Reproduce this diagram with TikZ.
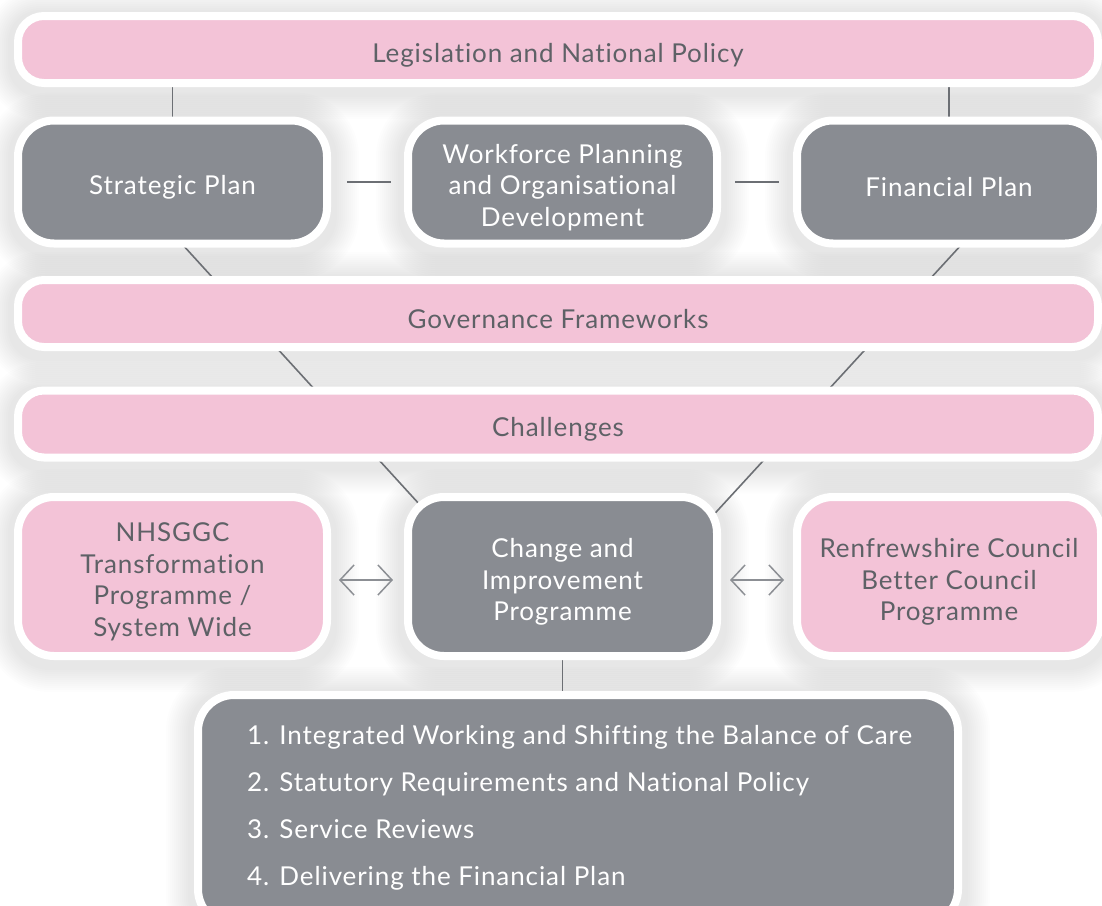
\documentclass[tikz,border=0pt]{standalone}
\usepackage{fontspec}
\setmainfont{Lato}[LetterSpace=3.5, Ligatures=NoCommon]
\usetikzlibrary{arrows.meta,calc}

\definecolor{boxgray}{HTML}{898C92}
\definecolor{boxpink}{HTML}{F3C3D7}
\definecolor{inkgray}{HTML}{5E6166}
\definecolor{linegray}{HTML}{6C6F74}
\definecolor{arrowgray}{HTML}{8C8F94}

\pgfdeclarelayer{canvas}
\pgfdeclarelayer{shadows}
\pgfdeclarelayer{links}
\pgfsetlayers{canvas,shadows,links,main}

\tikzset{
  panel/.style={draw=white, line width=8pt, inner sep=0pt},
  graypanel/.style={panel, fill=boxgray, rounded corners=36pt},
  pinkpanel/.style={panel, fill=boxpink, rounded corners=36pt},
  pinkbar/.style={panel, fill=boxpink, rounded corners=26pt,
    minimum width=1080pt, minimum height=67pt},
  caption/.style={inner sep=0pt, align=center, yshift=-5.5pt,
    font=\fontsize{26}{31.5}\selectfont},
  oncolour/.style={caption, text=white},
  onpink/.style={caption, text=inkgray},
  link/.style={draw=linegray, line width=1.6pt},
  twoway/.style={draw=arrowgray, line width=1.5pt,
    {Straight Barb[length=14pt,width=30pt]}-{Straight Barb[length=14pt,width=30pt]}},
}

\begin{document}
\begin{tikzpicture}[x=1pt,y=-1pt]
\useasboundingbox (0,0) rectangle (1102,905);
\begin{pgfonlayer}{canvas}
  \fill[white] (0,0) rectangle (1102,905);
\end{pgfonlayer}

% framework bars and boxes
\node[pinkbar] (leg) at (558,49.5) {};
\node[graypanel, minimum width=309pt, minimum height=123pt] (strat) at (172.5,182) {};
\node[graypanel, minimum width=309pt, minimum height=123pt] (work) at (562.5,182) {};
\node[graypanel, minimum width=304pt, minimum height=123pt] (fin) at (949,182) {};
\node[pinkbar] (gov) at (558,313.5) {};
\node[pinkbar] (chal) at (558,424) {};
\node[pinkpanel, minimum width=309pt, minimum height=159pt] (nhs) at (172.5,576.5) {};
\node[graypanel, minimum width=309pt, minimum height=159pt] (change) at (562.5,576.5) {};
\node[pinkpanel, minimum width=304pt, minimum height=159pt] (ren) at (949,576.5) {};
\node[graypanel, minimum width=760pt, minimum height=230pt] (list) at (578,810) {};

% captions
\node[onpink] (leg-t) at (leg.center) {Legislation and National Policy};
\node[oncolour] (strat-t) at (strat.center) {Strategic Plan};
\node[oncolour] (work-t) at (work.center) {Workforce Planning\\and Organisational\\Development};
\node[oncolour] (fin-t) at (fin.center) {Financial Plan};
\node[onpink] (gov-t) at (gov.center) {Governance Frameworks};
\node[onpink] (chal-t) at (chal.center) {Challenges};
\node[onpink] (nhs-t) at (nhs.center) {NHSGGC\\Transformation\\Programme /\\System Wide};
\node[oncolour] (change-t) at (change.center) {Change and\\Improvement\\Programme};
\node[onpink] (ren-t) at (ren.center) {Renfrewshire Council\\Better Council\\Programme};
\node[anchor=west, align=left, text=white, inner sep=0pt,
  font=\fontsize{26}{47}\selectfont] (items) at (247,807.5)
  {1. Integrated Working and Shifting the Balance of Care\\
   2. Statutory Requirements and National Policy\\
   3. Service Reviews\\
   4. Delivering the Financial Plan};

% two-way links to the partner programmes
\draw[twoway] ([xshift=8pt,yshift=-3.5pt]nhs.east) -- ([xshift=-11pt,yshift=-3.5pt]change.west);
\draw[twoway] ([xshift=9pt,yshift=-3.5pt]change.east) -- ([xshift=-9pt,yshift=-3.5pt]ren.west);

% soft shadows under every box, built from stacked translucent outlines
\begin{pgfonlayer}{shadows}
  \foreach \n/\r in {leg/30,strat/40,work/40,fin/40,gov/30,chal/30,nhs/40,change/40,ren/40,list/40}{
    \foreach \e [evaluate=\e as \rr using \r+\e] in {24,22,...,2}{
      \fill[black, opacity=0.008, rounded corners=\rr pt]
        ($(\n.south west)+({-4-\e},{8+\e})$) rectangle ($(\n.north east)+({4+\e},{-\e})$);
    }
  }
\end{pgfonlayer}

% connectors, running behind the boxes
\begin{pgfonlayer}{links}
  \draw[link] (leg.south -| strat.north) -- (strat.north);
  \draw[link] (leg.south -| fin.north) -- (fin.north);
  \draw[link] ([xshift=16pt]strat.east) -- ([xshift=-13pt]work.west);
  \draw[link] ([xshift=14pt]work.east) -- ([xshift=-14pt]fin.west);
  \draw[link] ($(strat.south)+(4,-9.5)$) -- ($(change.north west)+(21.5,18)$);
  \draw[link] ($(fin.south)+(19,-10)$) -- ($(change.north east)+(-14,29)$);
  \draw[link] (change.south) -- (change.south |- list.north);
\end{pgfonlayer}
\end{tikzpicture}
\end{document}
